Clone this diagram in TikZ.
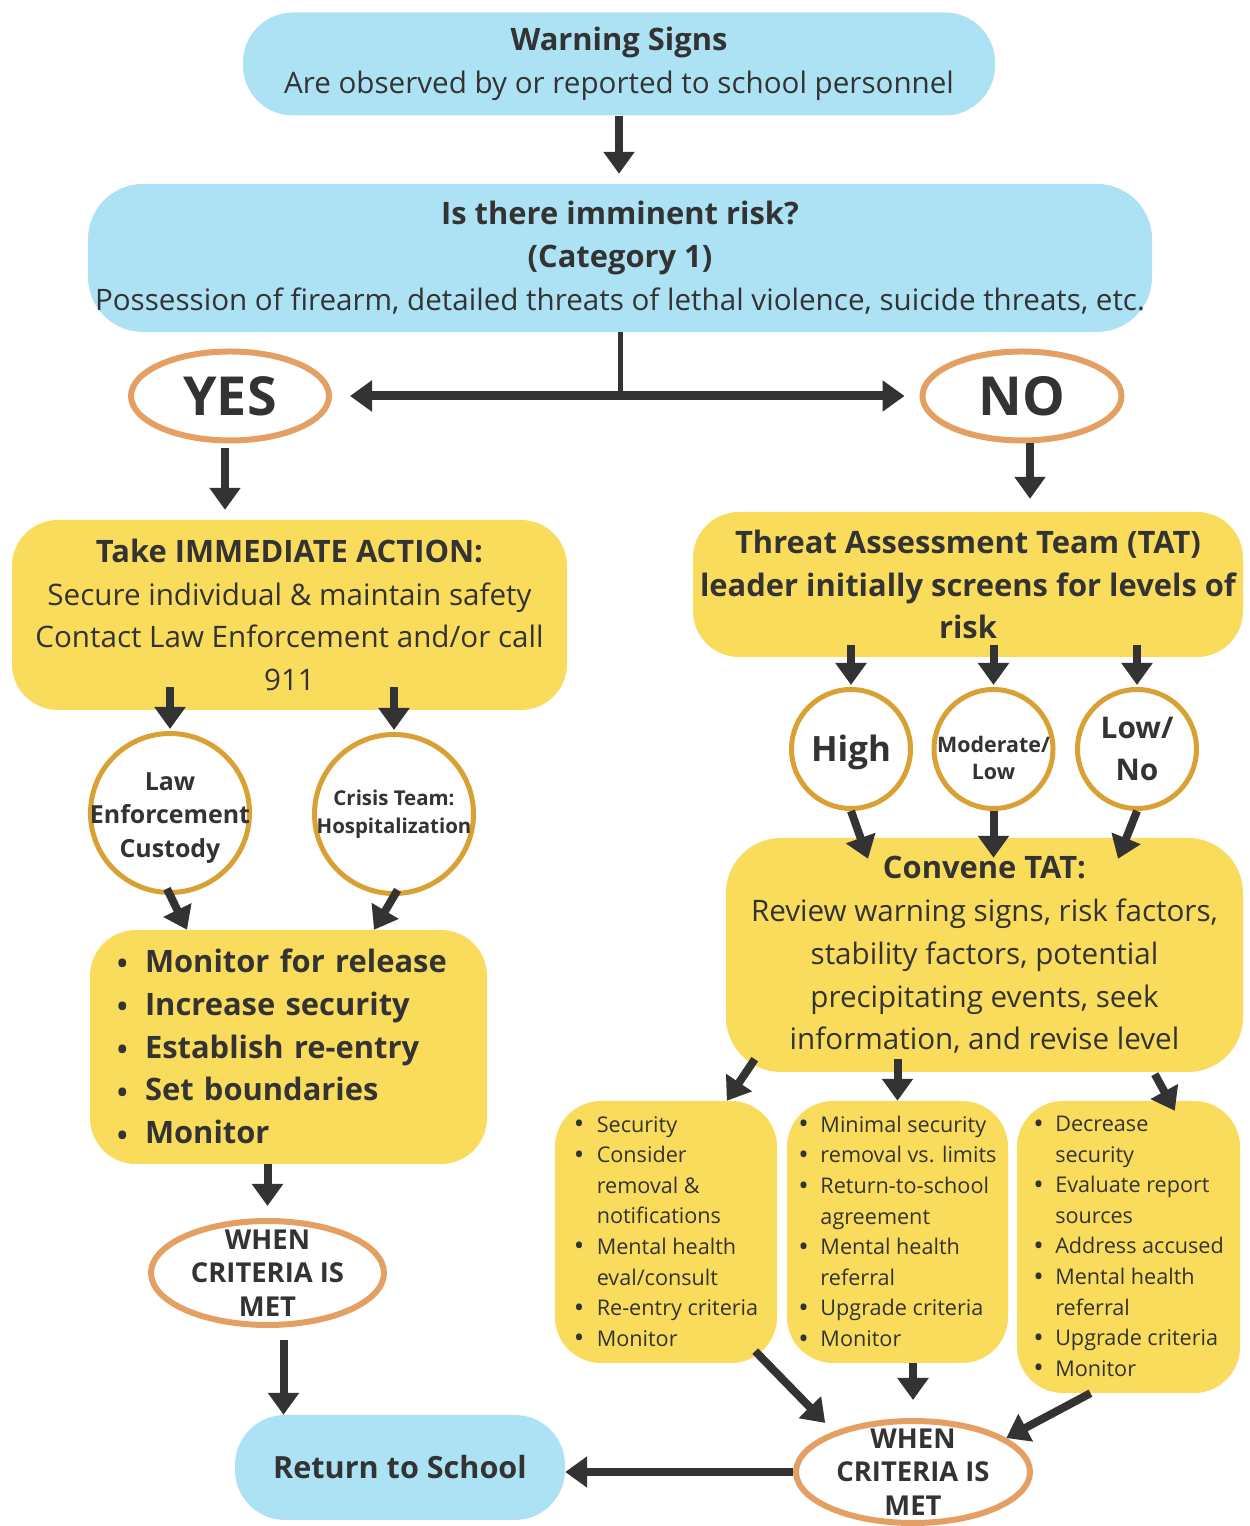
\documentclass[tikz,border=0pt]{standalone}
\usepackage{fontspec}
\setmainfont{Open Sans}
\usetikzlibrary{arrows.meta,shapes.geometric}
\definecolor{skyfill}{HTML}{ADE2F5}
\definecolor{sunfill}{HTML}{F9DC5C}
\definecolor{ringorange}{HTML}{E49F63}
\definecolor{ringgold}{HTML}{D9A033}
\definecolor{inkgray}{HTML}{333333}
\newcommand{\fs}[2]{\fontsize{#1}{#2}\selectfont}
\newcommand{\hd}[1]{{\fs{31}{43}\bfseries #1}}
\newcommand{\bul}[1][23bp]{\makebox[#1][l]{\raisebox{-1.5bp}{\fs{28}{28}•}}}
\newcommand{\ind}[1][23bp]{\hspace*{#1}}
\begin{document}
\begin{tikzpicture}[>={Triangle[length=22bp,width=30bp]},line join=bevel,
  skybox/.style={rectangle,fill=skyfill,rounded corners=50bp,align=center,text=inkgray,inner sep=0pt},
  sunbox/.style={rectangle,fill=sunfill,rounded corners=46bp,text=inkgray,inner sep=0pt},
  oring/.style={ellipse,draw=ringorange,line width=6bp,fill=white,inner sep=0pt},
  gring/.style={circle,draw=ringgold,line width=5bp,fill=white,inner sep=0pt},
  ringtext/.style={align=center,text=inkgray},
  arr/.style={draw=inkgray,line width=8bp,->},
]
\useasboundingbox (0bp,0bp) rectangle (1250bp,1526bp);
%%
\node (node_warn) at (619bp,1462bp) [skybox,minimum width=752bp,minimum height=103bp,font=\fs{29.7}{43}] {\hd{Warning Signs}\\Are observed by or reported to school personnel};
\node (node_risk) at (620bp,1268bp) [skybox,rounded corners=55bp,minimum width=1064bp,minimum height=148bp,font=\fs{29.7}{43}] {\hd{Is there imminent risk?}\\\hd{(Category 1)}\\Possession of firearm, detailed threats of lethal violence, suicide threats, etc.};
\node (node_yes) at (230bp,1130bp) [oring,minimum width=198bp,minimum height=89bp,label={[ringtext,font={\fs{54}{54}\bfseries}]center:YES}] {};
\node (node_no) at (1022bp,1130bp) [oring,minimum width=199bp,minimum height=89bp,label={[ringtext,font={\fs{54}{54}\bfseries}]center:NO}] {};
\node (node_act) at (289.5bp,911bp) [sunbox,align=center,minimum width=555bp,minimum height=190bp,font=\fs{29.7}{43}] {\hd{Take IMMEDIATE ACTION:}\\Secure individual \& maintain safety\\Contact Law Enforcement and/or call\\911};
\node (node_tat) at (968bp,941.5bp) [sunbox,align=center,minimum width=550bp,minimum height=145bp,font=\fs{31}{43}\bfseries] {Threat Assessment Team (TAT)\\leader initially screens for levels of\\risk};
\node (node_law) at (170bp,713bp) [gring,minimum size=159bp,label={[ringtext,font={\fs{25}{34}\bfseries},yshift=-5bp]center:Law\\Enforcement\\Custody}] {};
\node (node_crisis) at (394bp,712bp) [gring,minimum size=159bp,label={[ringtext,font={\fs{20.5}{28}\bfseries}]center:Crisis Team:\\Hospitalization}] {};
\node (node_high) at (851bp,777bp) [gring,minimum size=119bp,label={[ringtext,font={\fs{35}{35}\bfseries},yshift=-3bp]center:High}] {};
\node (node_mod) at (993.5bp,777bp) [gring,minimum size=119bp,label={[ringtext,font={\fs{21.5}{28}\bfseries},yshift=-9bp]center:Moderate/\\Low}] {};
\node (node_low) at (1137bp,777bp) [gring,minimum size=119bp,label={[ringtext,font={\fs{30}{42}\bfseries}]center:Low/\\No}] {};
\node (node_mon) at (288.5bp,479bp) [sunbox,align=left,text width=343bp,minimum width=397bp,minimum height=234bp,font=\fs{31}{43}\bfseries] {\bul[28bp]Monitor for release\\\bul[28bp]Increase security\\\bul[28bp]Establish re-entry\\\bul[28bp]Set boundaries\\\bul[28bp]Monitor};
\node (node_conv) at (984.5bp,571bp) [sunbox,rounded corners=55bp,align=center,minimum width=517bp,minimum height=234bp,font=\fs{29.7}{43}] {\hd{Convene TAT:}\\Review warning signs, risk factors,\\stability factors, potential\\precipitating events, seek\\information, and revise level};
\node (node_secA) at (666bp,294bp) [sunbox,align=left,minimum width=222bp,minimum height=262bp,font=\fs{21.7}{30.7}] {\bul Security\\\bul Consider\\\ind removal \&\\\ind notifications\\\bul Mental health\\\ind eval/consult\\\bul Re-entry criteria\\\bul Monitor};
\node (node_secB) at (897.5bp,294bp) [sunbox,align=left,minimum width=221bp,minimum height=262bp,font=\fs{21.7}{30.7}] {\bul[22bp]Minimal security\\\bul[22bp]removal vs. limits\\\bul[22bp]Return-to-school\\\ind[22bp]agreement\\\bul[22bp]Mental health\\\ind[22bp]referral\\\bul[22bp]Upgrade criteria\\\bul[22bp]Monitor};
\node (node_secC) at (1128.5bp,279bp) [sunbox,align=left,minimum width=223bp,minimum height=292bp,font=\fs{21.7}{30.7}] {\bul[22bp]Decrease\\\ind[22bp]security\\\bul[22bp]Evaluate report\\\ind[22bp]sources\\\bul[22bp]Address accused\\\bul[22bp]Mental health\\\ind[22bp]referral\\\bul[22bp]Upgrade criteria\\\bul[22bp]Monitor};
\node (node_whenL) at (267.5bp,253bp) [oring,minimum width=233bp,minimum height=104bp,label={[ringtext,font={\fs{27.5}{33.5}\bfseries}]center:WHEN\\CRITERIA IS\\MET}] {};
\node (node_whenR) at (913bp,54bp) [oring,minimum width=234bp,minimum height=102bp,label={[ringtext,font={\fs{27.5}{33.5}\bfseries}]center:WHEN\\CRITERIA IS\\MET}] {};
\node (node_ret) at (400bp,58.5bp) [skybox,minimum width=330bp,minimum height=105bp,font=\fs{30.7}{43}\bfseries] {Return to School};
%
\draw [arr,shorten >=10bp] (node_warn.south) -- (node_warn.south |- node_risk.north);
\draw [draw=inkgray,line width=5bp] (node_risk.south) -- (node_risk.south |- node_yes.east);
\draw [arr,line width=9bp,<->,shorten <=18bp,shorten >=15bp] (node_yes.east) -- (node_no.west);
\draw [arr,shorten <=5bp,shorten >=10bp] ([xshift=-5bp]node_yes.south) -- ([xshift=-5bp]node_yes.south |- node_act.north);
\draw [arr,shorten >=13bp] ([xshift=8bp]node_no.south) -- ([xshift=8bp]node_no.south |- node_tat.north);
\draw [arr,shorten >=2bp] ([yshift=23bp]node_act.south -| node_law.north) -- (node_law.north);
\draw [arr,shorten >=2bp] ([yshift=23bp]node_act.south -| node_crisis.north) -- (node_crisis.north);
\draw [arr,shorten <=-7bp] (node_law.south) -- ([xshift=17bp]node_law.south |- node_mon.north);
\draw [arr,shorten <=-7bp] (node_crisis.south) -- ([xshift=-20bp]node_crisis.south |- node_mon.north);
\draw [arr,shorten >=12bp] (node_mon.south -| node_whenL.north) -- (node_whenL.north);
\draw [arr,shorten <=12bp] ([xshift=16bp]node_whenL.south) -- ([xshift=16bp]node_whenL.south |- node_ret.north);
\draw [arr,shorten >=2bp] ([yshift=12bp]node_tat.south -| node_high.north) -- (node_high.north);
\draw [arr,shorten >=2bp] ([yshift=12bp]node_tat.south -| node_mod.north) -- (node_mod.north);
\draw [arr,shorten >=2bp] ([yshift=12bp]node_tat.south -| node_low.north) -- (node_low.north);
\draw [arr] (node_high.south) -- ([xshift=17bp,yshift=-21bp]node_high.south |- node_conv.north);
\draw [arr] (node_mod.south) -- ([yshift=-20bp]node_mod.south |- node_conv.north);
\draw [arr] (node_low.south) -- ([xshift=-19bp,yshift=-21bp]node_low.south |- node_conv.north);
\draw [arr] ([shift={(29bp,13bp)}]node_conv.south west) -- ([xshift=172bp]node_secA.north west);
\draw [arr] ([yshift=13bp]node_conv.south -| node_secB.north) -- (node_secB.north);
\draw [arr] ([shift={(429bp,-2bp)}]node_conv.south west) -- ([shift={(158bp,-10bp)}]node_secC.north west);
\draw [arr,shorten >=12bp] ([shift={(-22bp,12bp)}]node_secA.south east) -- (node_whenR.153);
\draw [arr,shorten >=18bp] (node_secB.south -| node_whenR.north) -- (node_whenR.north);
\draw [arr] ([xshift=-38bp]node_secC.south) -- (node_whenR.20);
\draw [arr] (node_whenR.west) -- (node_whenR.west -| node_ret.east);
%
\end{tikzpicture}
\end{document}
